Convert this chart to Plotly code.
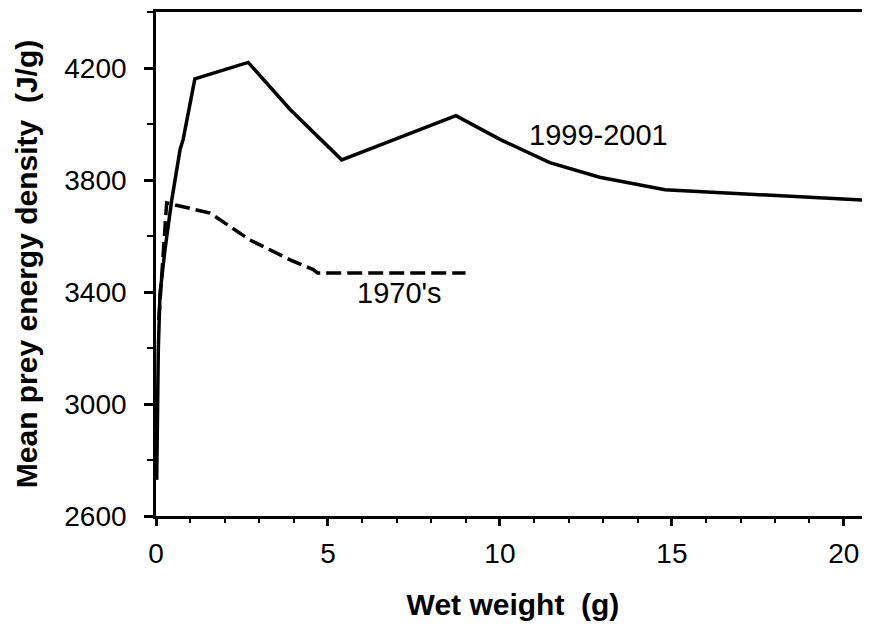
import plotly.graph_objects as go

# 1999-2001 series (wet weight g, mean prey energy density J/g)
recent_x = [0.02, 0.067, 0.116, 0.26, 0.46, 0.70, 0.79, 1.13, 2.68, 3.90, 5.40, 8.72, 10.0, 11.45, 12.9, 14.8, 20.76]
recent_y = [2729, 3193, 3395, 3550, 3730, 3909, 3945, 4161, 4220, 4052, 3872, 4030, 3945, 3862, 3810, 3765, 3727]

# 1970's series
old_x = [0.08, 0.31, 1.57, 2.06, 2.73, 3.90, 4.57, 4.7, 9.0]
old_y = [3300, 3718, 3682, 3640, 3586, 3515, 3480, 3468, 3468]

label_recent = "1999-2001"
label_old = "1970's"

x_ticks = [0, 5, 10, 15, 20]
y_ticks = [2600, 3000, 3400, 3800, 4200]

FONT = "Liberation Sans, Arial, sans-serif"

fig = go.Figure()
fig.add_trace(go.Scatter(x=recent_x, y=recent_y, mode="lines",
                         line=dict(color="black", width=3.5), showlegend=False))
fig.add_trace(go.Scatter(x=old_x, y=old_y, mode="lines",
                         line=dict(color="black", width=3.5, dash="15px,6px"),
                         showlegend=False))

fig.add_annotation(x=10.8, y=3960, text=label_recent, showarrow=False,
                   xanchor="left", yanchor="middle",
                   font=dict(family=FONT, size=29, color="black"))
fig.add_annotation(x=5.8, y=3397, text=label_old, showarrow=False,
                   xanchor="left", yanchor="middle",
                   font=dict(family=FONT, size=29, color="black"))

fig.update_layout(
    width=862, height=627,
    margin=dict(l=148, r=0, t=4, b=119),
    plot_bgcolor="white", paper_bgcolor="white",
    font=dict(family=FONT, size=28, color="black"),
    xaxis=dict(range=[0, 20.76], tickvals=x_ticks, showgrid=False, zeroline=False,
               showline=True, linecolor="black", linewidth=2.7, mirror=True,
               ticks="outside", ticklen=7, tickwidth=2.5, tickcolor="black",
               ticklabelstandoff=4,
               minor=dict(dtick=1, ticks="outside", ticklen=4, tickwidth=2.2, tickcolor="black"),
               title=dict(text="<b>Wet weight\u00a0\u00a0(g)</b>", font=dict(size=30), standoff=26)),
    yaxis=dict(range=[2600, 4400], tickvals=y_ticks, showgrid=False, zeroline=False,
               showline=True, linecolor="black", linewidth=2.7, mirror=False,
               ticks="outside", ticklen=9, tickwidth=2.5, tickcolor="black",
               ticklabelstandoff=12,
               minor=dict(dtick=200, ticks="outside", ticklen=6, tickwidth=2.2, tickcolor="black"),
               title=dict(text="<b>Mean prey energy density\u00a0\u00a0(J/g)</b>", font=dict(size=30), standoff=18)),
)

fig.write_html("out.html")
